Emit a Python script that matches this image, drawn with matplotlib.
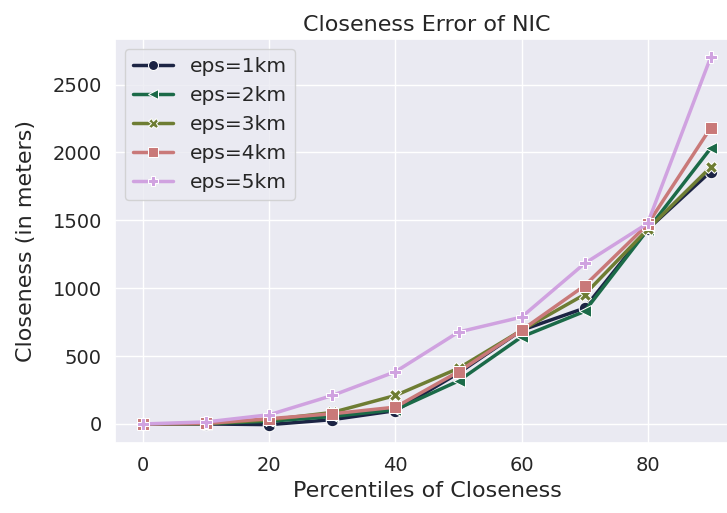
import matplotlib
matplotlib.use("Agg")
import matplotlib.pyplot as plt
import numpy as np
import pandas as pd
import seaborn as sns

percentiles = [0, 10, 20, 30, 40, 50, 60, 70, 80, 90]
eps_labels = ["eps=1km", "eps=2km", "eps=3km", "eps=4km", "eps=5km"]

eps1 = [0, 0, -5, 32, 98, 375, 690, 853, 1433, 1859]
eps2 = [0, 2, 20, 55, 105, 317, 641, 829, 1430, 2030]
eps3 = [0, 3, 30, 85, 210, 410, 690, 953, 1433, 1891]
eps4 = [0, 4, 39, 75, 124, 385, 690, 1018, 1470, 2181]
eps5 = [0, 15, 68, 210, 385, 677, 787, 1182, 1477, 2700]

colors = ["#1c2444", "#1b6a48", "#6e7d33", "#c97979", "#d0a2e0"]

series = [eps1, eps2, eps3, eps4, eps5]
rows = []
for lab, vals in zip(eps_labels, series):
    for p, v in zip(percentiles, vals):
        rows.append({"Percentile": p, "Closeness": v, "eps": lab})
df = pd.DataFrame(rows)

sns.set_theme(style="darkgrid", font_scale=1.25)
plt.rcParams['font.family'] = ['DejaVu Sans']

fig = plt.figure(figsize=(7.27, 5.13), dpi=100)
ax = fig.add_axes([115 / 727, 1 - 443 / 513, (739 - 115) / 727, (443 - 39) / 513])

sns.lineplot(data=df, x="Percentile", y="Closeness", hue="eps", style="eps",
             markers=['o', '<', 'X', 's', 'P'], dashes=False,
             palette=colors, linewidth=2.5, markersize=9, ax=ax)

ax.set_title("Closeness Error of NIC", fontsize=16)
ax.set_xlabel("Percentiles of Closeness", fontsize=16)
ax.set_ylabel("Closeness (in meters)", fontsize=16, labelpad=12)
ax.tick_params(labelsize=14)
ax.legend(loc="upper left", fontsize=14.5, markerscale=0.8)

fig.savefig("out.png", dpi=100)
